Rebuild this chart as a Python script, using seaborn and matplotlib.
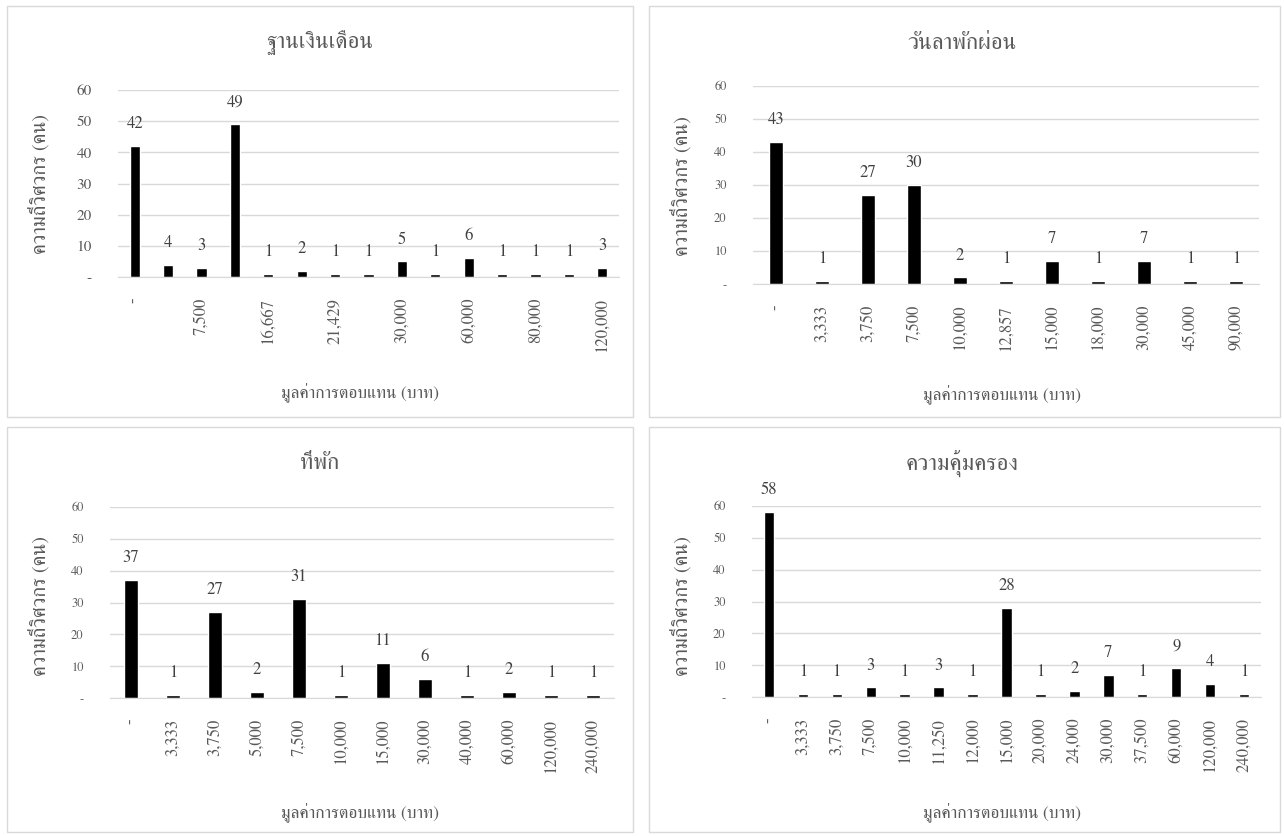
import matplotlib
matplotlib.use("Agg")
import matplotlib.pyplot as plt
from matplotlib.patches import Rectangle
import seaborn as sns

# %% data
# salary chart: Excel only printed every other category label, the in-between ones are placeholders
salary_labels = ["-", "5,000", "7,500", "15,000", "16,667", "20,000", "21,429", "25,000",
                 "30,000", "40,000", "60,000", "75,000", "80,000", "100,000", "120,000"]
salary_counts = [42, 4, 3, 49, 1, 2, 1, 1, 5, 1, 6, 1, 1, 1, 3]

leave_labels = ["-", "3,333", "3,750", "7,500", "10,000", "12,857", "15,000", "18,000",
                "30,000", "45,000", "90,000"]
leave_counts = [43, 1, 27, 30, 2, 1, 7, 1, 7, 1, 1]

housing_labels = ["-", "3,333", "3,750", "5,000", "7,500", "10,000", "15,000", "30,000",
                  "40,000", "60,000", "120,000", "240,000"]
housing_counts = [37, 1, 27, 2, 31, 1, 11, 6, 1, 2, 1, 1]

cover_labels = ["-", "3,333", "3,750", "7,500", "10,000", "11,250", "12,000", "15,000",
                "20,000", "24,000", "30,000", "37,500", "60,000", "120,000", "240,000"]
cover_counts = [58, 1, 1, 3, 1, 3, 1, 28, 1, 2, 7, 1, 9, 4, 1]

titles = ["ฐานเงินเดือน", "วันลาพักผ่อน", "ที่พัก", "ความคุ้มครอง"]
y_title = "ความถี่วิศวกร (คน)"
x_title = "มูลค่าการตอบแทน (บาท)"
y_ticks = [0, 10, 20, 30, 40, 50, 60]
y_ticklabels = ["-", "10", "20", "30", "40", "50", "60"]

# %% style
sns.set_style("white")
plt.rcParams["font.family"] = ["FreeSerif", "Liberation Serif", "DejaVu Sans"]

W, H = 1284, 836
fig = plt.figure(figsize = (W / 100, H / 100), dpi = 100)
grey = "#595959"
grid_c = "#d9d9d9"

def px_axes(l, t, r, b):
    return fig.add_axes([l / W, 1 - b / H, (r - l) / W, (b - t) / H])

def border(l, t, r, b):
    fig.add_artist(Rectangle((l / W, 1 - b / H), (r - l) / W, (b - t) / H,
                             transform = fig.transFigure, fill = False,
                             edgecolor = grid_c, linewidth = 1))

panels = [
    # data, labels, axes box, chart box, title xy, ylabel xy, xlabel xy, ytick size, label step
    (salary_counts, salary_labels, (118, 90, 619, 277), (7, 6, 633, 417),
     (320, 43), (39, 184), (360, 393), 11, 2),
    (leave_counts, leave_labels, (753, 86, 1259, 284), (649, 6, 1280, 417),
     (962, 43), (681, 186), (1002, 395), 9, 1),
    (housing_counts, housing_labels, (110, 507, 614, 698), (7, 427, 633, 832),
     (320, 463), (39, 606), (360, 813), 9, 1),
    (cover_counts, cover_labels, (752, 506, 1261, 697), (649, 427, 1280, 832),
     (962, 463), (681, 606), (1002, 813), 9, 1),
]

for i, (counts, labels, box, chart, t_xy, yl_xy, xl_xy, ytsize, step) in enumerate(panels):
    border(*chart)
    ax = px_axes(*box)
    sns.barplot(x = labels, y = counts, color = "black", width = 0.31,
                saturation = 1, ax = ax)
    ax.set_xlim(-0.5, len(counts) - 0.5)
    ax.set_ylim(0, 60)
    ax.set_yticks(y_ticks)
    ax.set_yticklabels(y_ticklabels, fontsize = ytsize, color = grey)
    ax.set_xticks(range(0, len(labels), step))
    ax.set_xticklabels(labels[::step], rotation = 90, fontsize = 12, color = grey)
    ax.tick_params(axis = "x", length = 0, pad = 15)
    ax.tick_params(axis = "y", length = 0, pad = 19)
    ax.yaxis.grid(True, color = grid_c, linewidth = 1)
    ax.set_axisbelow(True)
    for s in ["top", "right", "left"]:
        ax.spines[s].set_visible(False)
    ax.spines["bottom"].set_color(grid_c)
    ax.set_xlabel("")
    ax.set_ylabel("")
    ax.bar_label(ax.containers[0], padding = 10, fontsize = 12, color = "#404040")

    fig.text(t_xy[0] / W, 1 - t_xy[1] / H, titles[i], ha = "center", va = "center",
             fontsize = 16.5, color = grey)
    fig.text(yl_xy[0] / W, 1 - yl_xy[1] / H, y_title, ha = "center", va = "center",
             rotation = 90, fontsize = 14.5, color = grey)
    fig.text(xl_xy[0] / W, 1 - xl_xy[1] / H, x_title, ha = "center", va = "center",
             fontsize = 12.5, color = grey)

fig.savefig("out.png", dpi = 100)
